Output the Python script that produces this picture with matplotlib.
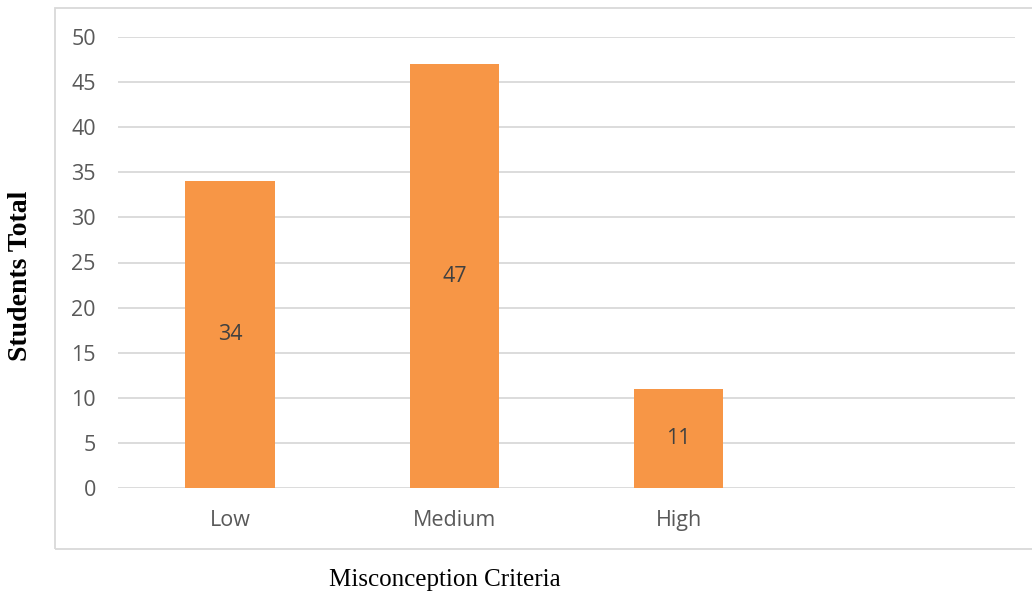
import matplotlib
matplotlib.use("Agg")
import matplotlib.pyplot as plt
from matplotlib.patches import Rectangle

categories = ["Low", "Medium", "High", ""]
students = [34, 47, 11, None]
y_ticks = [0, 5, 10, 15, 20, 25, 30, 35, 40, 45, 50]

W, H = 1032, 598
fig = plt.figure(figsize=(W / 100, H / 100), dpi=100)
fig.patch.set_facecolor("white")

# chart-area frame
fig.patches.append(Rectangle((55 / W, 1 - 549 / H), (1040 - 55) / W, (549 - 8) / H,
                             transform=fig.transFigure, fill=False,
                             edgecolor="#D9D9D9", linewidth=1.3, zorder=0))

ax = fig.add_axes([118 / W, 1 - 488 / H, 897 / W, 451 / H])
x = list(range(len(categories)))
vals = [v if v is not None else 0 for v in students]
bars = ax.bar(x, vals, width=0.4, color="#F79646", zorder=3)

for xi, v in zip(x, students):
    if v is not None:
        ax.text(xi, v / 2, str(v), ha="center", va="center",
                fontsize=15.5, color="#404040", family="Open Sans", zorder=4)

ax.set_xlim(-0.5, len(categories) - 0.5)
ax.set_ylim(0, 50)
ax.set_yticks(y_ticks)
ax.set_yticklabels([str(t) for t in y_ticks], family="Open Sans",
                   fontsize=15.5, color="#595959")
ax.set_xticks(x)
ax.set_xticklabels(categories, family="Open Sans", fontsize=15.5, color="#595959")
ax.tick_params(axis="both", length=0)
ax.tick_params(axis="y", pad=16)
ax.tick_params(axis="x", pad=16)
ax.grid(axis="y", color="#D9D9D9", linewidth=1.3, zorder=0)
for s in ax.spines.values():
    s.set_visible(False)

fig.text(21 / W, 1 - 276 / H, "Students Total", rotation=90, ha="center",
         va="center", family="Liberation Serif", fontweight="bold",
         fontsize=20, color="black")
fig.text(445 / W, 1 - 580 / H, "Misconception Criteria", ha="center",
         va="center", family="Liberation Serif", fontsize=18, color="black")

fig.savefig("out.png", dpi=100, facecolor="white")
